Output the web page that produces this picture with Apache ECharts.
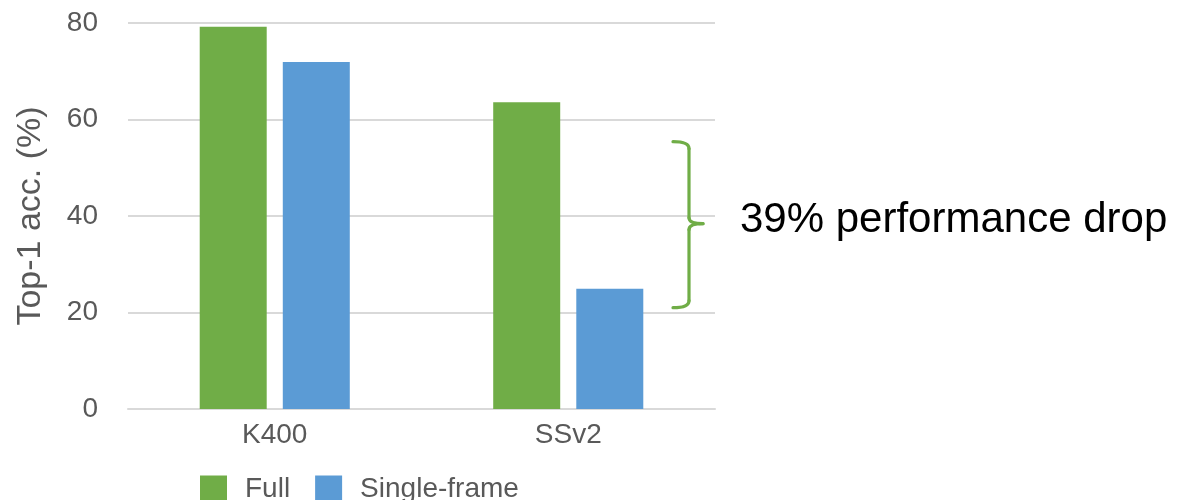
<!doctype html>
<html>
    <head>
        <meta charset="utf-8">
        <title>Top-1 acc. - Full vs Single-frame</title>
        <style>
            html, body { margin: 0; padding: 0; background: #fff; }
            #main { width: 1177px; height: 500px; }
        </style>
    </head>
    <body>
        <div id="main"></div>
        <script src="https://cdn.jsdelivr.net/npm/echarts@6/dist/echarts.min.js"></script>
        <script>
            var categories = ['K400', 'SSv2'];
            var fullValues = [79.2, 63.6];
            var singleFrameValues = [71.9, 24.9];
            var yTicks = [0, 20, 40, 60, 80];
            // brace annotation span (in axis units)
            var braceTop = 55.4;
            var braceBottom = 21.0;
            var braceMid = 38.4;
            var dropText = '39% performance drop';

            var font = '"Liberation Sans", Arial, Helvetica, sans-serif';
            var green = '#70AD47';
            var blue = '#5B9BD5';
            var grey = '#595959';

            var chart = echarts.init(document.getElementById('main'), null, {
                devicePixelRatio: 1
            });

            chart.setOption({
                animation: false,
                textStyle: { fontFamily: font },
                grid: {
                    left: 128,
                    right: 462,
                    top: 23,
                    bottom: 91,
                    containLabel: false
                },
                legend: {
                    data: ['Full', 'Single-frame'],
                    left: 195,
                    top: 470,
                    itemWidth: 27,
                    itemHeight: 27,
                    itemGap: 25,
                    icon: 'rect',
                    textStyle: {
                        fontSize: 28,
                        color: grey,
                        fontFamily: font,
                        padding: [0, 0, 0, 13]
                    }
                },
                xAxis: {
                    type: 'category',
                    data: categories,
                    axisLine: { lineStyle: { color: '#d9d9d9', width: 2 } },
                    axisTick: { show: false },
                    axisLabel: {
                        fontSize: 28,
                        color: grey,
                        margin: 12,
                        fontFamily: font
                    }
                },
                yAxis: {
                    type: 'value',
                    min: yTicks[0],
                    max: yTicks[yTicks.length - 1],
                    interval: 20,
                    name: 'Top-1 acc. (%)',
                    nameLocation: 'middle',
                    nameGap: 80,
                    nameTextStyle: {
                        fontSize: 34,
                        color: grey,
                        fontFamily: font
                    },
                    axisLine: { show: false },
                    axisTick: { show: false },
                    axisLabel: {
                        fontSize: 28,
                        color: grey,
                        margin: 30,
                        fontFamily: font
                    },
                    splitLine: { lineStyle: { color: '#d9d9d9', width: 2 } }
                },
                series: [{
                    name: 'Full',
                    type: 'bar',
                    data: fullValues,
                    barWidth: 67,
                    barGap: '24%',
                    itemStyle: { color: green }
                }, {
                    name: 'Single-frame',
                    type: 'bar',
                    data: singleFrameValues,
                    barWidth: 67,
                    barGap: '24%',
                    itemStyle: { color: blue }
                }]
            });

            // brace + annotation, placed with the value axis scale
            var yTop = chart.convertToPixel({ yAxisIndex: 0 }, braceTop);
            var yBot = chart.convertToPixel({ yAxisIndex: 0 }, braceBottom);
            var yMid = chart.convertToPixel({ yAxisIndex: 0 }, braceMid);
            var bx = 689;
            var braceStyle = { stroke: green, lineWidth: 3.2, fill: null, lineCap: 'round' };

            function curve(x1, y1, cx, cy, x2, y2) {
                return {
                    type: 'bezierCurve',
                    shape: { x1: x1, y1: y1, cpx1: cx, cpy1: cy, x2: x2, y2: y2 },
                    style: braceStyle,
                    silent: true
                };
            }
            function seg(x1, y1, x2, y2) {
                return {
                    type: 'line',
                    shape: { x1: x1, y1: y1, x2: x2, y2: y2 },
                    style: braceStyle,
                    silent: true
                };
            }

            chart.setOption({
                graphic: [
                    curve(673, yTop, bx, yTop, bx, yTop + 7),
                    seg(bx, yTop + 7, bx, yMid - 6),
                    curve(bx, yMid - 6, bx, yMid, 703, yMid),
                    curve(703, yMid, bx, yMid, bx, yMid + 6),
                    seg(bx, yMid + 6, bx, yBot - 7),
                    curve(bx, yBot - 7, bx, yBot, 673, yBot),
                    {
                        type: 'text',
                        left: 740,
                        top: yMid - 24,
                        style: {
                            text: dropText,
                            font: '42px ' + font,
                            fill: '#000'
                        },
                        silent: true
                    }
                ]
            });

            window.onresize = chart.resize;
        </script>
    </body>
</html>
